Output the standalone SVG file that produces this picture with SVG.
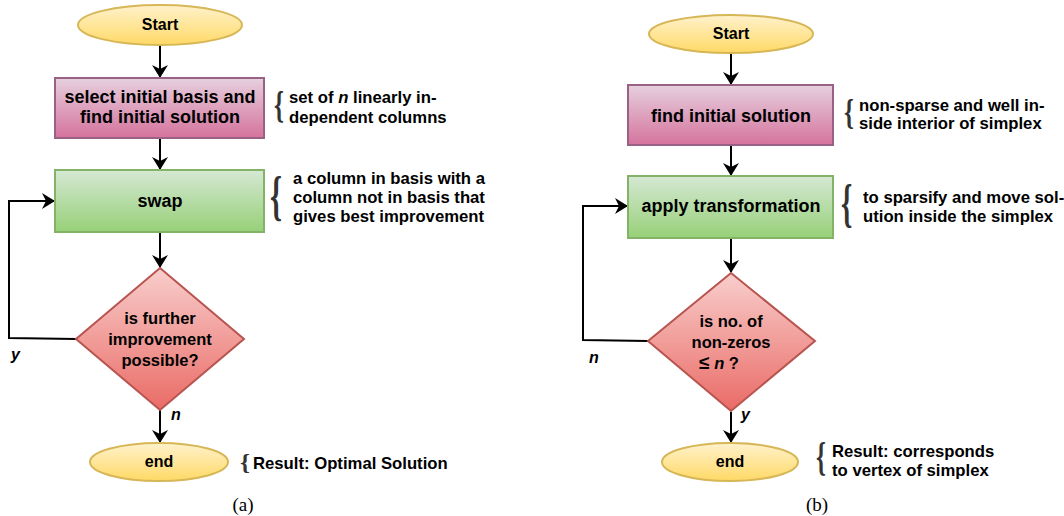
<svg xmlns="http://www.w3.org/2000/svg" width="1064" height="516" viewBox="0 0 1064 516">
<style>
.t{font-family:"Liberation Sans",Arial,sans-serif;font-weight:bold;font-size:18px;fill:#000;text-anchor:middle}
.te{font-size:16px}
.td{font-size:16.5px}
.a{font-family:"Liberation Sans",Arial,sans-serif;font-weight:bold;font-size:16.7px;fill:#000}
.l{font-family:"Liberation Sans",Arial,sans-serif;font-weight:bold;font-style:italic;font-size:16px;fill:#000}
.br{font-family:"Liberation Serif","Times New Roman",serif;font-weight:bold;font-size:36px;fill:#333}
.cap{font-family:"Liberation Serif","Times New Roman",serif;font-size:19px;fill:#000;text-anchor:middle}
.c{fill:none;stroke:#000;stroke-width:2;marker-end:url(#ah)}
.term{fill:url(#gy);stroke:#d6b656;stroke-width:2}
.pk{fill:url(#gp);stroke:#996185;stroke-width:2}
.gr{fill:url(#gg);stroke:#82b366;stroke-width:2}
.dm{fill:url(#gr);stroke:#b85450;stroke-width:2}
</style>
<defs>
<linearGradient id="gy" x1="0" y1="0" x2="0" y2="1"><stop offset="0" stop-color="#fff2cc"/><stop offset="1" stop-color="#ffd966"/></linearGradient>
<linearGradient id="gp" x1="0" y1="0" x2="0" y2="1"><stop offset="0" stop-color="#e6d0de"/><stop offset="1" stop-color="#d5739d"/></linearGradient>
<linearGradient id="gg" x1="0" y1="0" x2="0" y2="1"><stop offset="0" stop-color="#d5e8d4"/><stop offset="1" stop-color="#97d077"/></linearGradient>
<linearGradient id="gr" x1="0" y1="0" x2="0" y2="1"><stop offset="0" stop-color="#f8cecc"/><stop offset="1" stop-color="#ea6b66"/></linearGradient>
<marker id="ah" markerWidth="14" markerHeight="16" refX="12" refY="8" orient="auto" markerUnits="userSpaceOnUse"><path d="M0,0 L13,8 L0,16 L4,8 Z" fill="#000"/></marker>
</defs>

<g id="connectors">
<path class="c" d="M160,45 L160,77"/>
<path class="c" d="M160,138 L160,169"/>
<path class="c" d="M160,232 L160,267"/>
<path class="c" d="M76,339 L9,338 L9,201 L54,201"/>
<path class="c" d="M160,410 L160,442"/>
<path class="c" d="M731,53 L731,84"/>
<path class="c" d="M731,145 L731,175"/>
<path class="c" d="M731,238 L731,272"/>
<path class="c" d="M648,341 L583,340 L583,206 L627,206"/>
<path class="c" d="M731,412 L731,442"/>
<text class="l" x="11" y="360">y</text>
<text class="l" x="171" y="420">n</text>
<text class="l" x="589" y="363">n</text>
<text class="l" x="741" y="420">y</text>
</g>

<g id="a-start"><ellipse class="term" cx="160" cy="25" rx="82" ry="20"/><text class="t te" x="160" y="30">Start</text></g>
<g id="a-init"><rect class="pk" x="55" y="78" width="209" height="60"/><text class="t" x="160" y="103">select initial basis and</text><text class="t" x="160" y="123">find initial solution</text></g>
<g id="a-swap"><rect class="gr" x="55" y="170" width="209" height="62"/><text class="t" x="160" y="207">swap</text></g>
<g id="a-dec"><path class="dm" d="M160,268 L244,339 L160,410 L76,339 Z"/><text class="t td" x="160" y="324">is further</text><text class="t td" x="160" y="345">improvement</text><text class="t td" x="160" y="366">possible?</text></g>
<g id="a-end"><ellipse class="term" cx="159" cy="462" rx="69" ry="19"/><text class="t te" x="159" y="467">end</text></g>

<g id="a-notes">
<text class="br" transform="translate(274,118) scale(0.7,1.05)">{</text>
<text class="a" x="289" y="103">set of <tspan font-style="italic">n</tspan> linearly in-</text>
<text class="a" x="289" y="123">dependent columns</text>
<text class="br" transform="translate(270,214) scale(0.85,1.53)">{</text>
<text class="a" x="293" y="184">a column in basis with a</text>
<text class="a" x="293" y="203">column not in basis that</text>
<text class="a" x="293" y="222">gives best improvement</text>
<text class="br" transform="translate(240,470) scale(0.7,0.64)">{</text>
<text class="a" x="253" y="469">Result: Optimal Solution</text>
</g>

<g id="b-start"><ellipse class="term" cx="731" cy="34" rx="82" ry="19"/><text class="t te" x="731" y="39">Start</text></g>
<g id="b-init"><rect class="pk" x="628" y="85" width="205" height="60"/><text class="t" x="731" y="122">find initial solution</text></g>
<g id="b-trans"><rect class="gr" x="628" y="176" width="205" height="62"/><text class="t" x="731" y="212">apply transformation</text></g>
<g id="b-dec"><path class="dm" d="M731,273 L815,341 L731,411 L648,341 Z"/><text class="t td" x="731" y="327">is no. of</text><text class="t td" x="731" y="348">non-zeros</text><text class="t td" x="719" y="369"><tspan font-size="19px">≤</tspan> <tspan font-style="italic">n</tspan> ?</text></g>
<g id="b-end"><ellipse class="term" cx="730" cy="462" rx="68" ry="19"/><text class="t te" x="730" y="467">end</text></g>

<g id="b-notes">
<text class="br" transform="translate(844,123.5) scale(0.7,1)">{</text>
<text class="a" x="859" y="111">non-sparse and well in-</text>
<text class="a" x="859" y="129">side interior of simplex</text>
<text class="br" transform="translate(841,221) scale(0.8,1.44)">{</text>
<text class="a" x="863" y="203" font-size="16.4px">to sparsify and move sol-</text>
<text class="a" x="863" y="222" font-size="16.4px">ution inside the simplex</text>
<text class="br" transform="translate(816,470) scale(0.7,1.09)">{</text>
<text class="a" x="832" y="457">Result: corresponds</text>
<text class="a" x="832" y="476">to vertex of simplex</text>
</g>

<text class="cap" x="243" y="511">(a)</text>
<text class="cap" x="817" y="511">(b)</text>
</svg>
